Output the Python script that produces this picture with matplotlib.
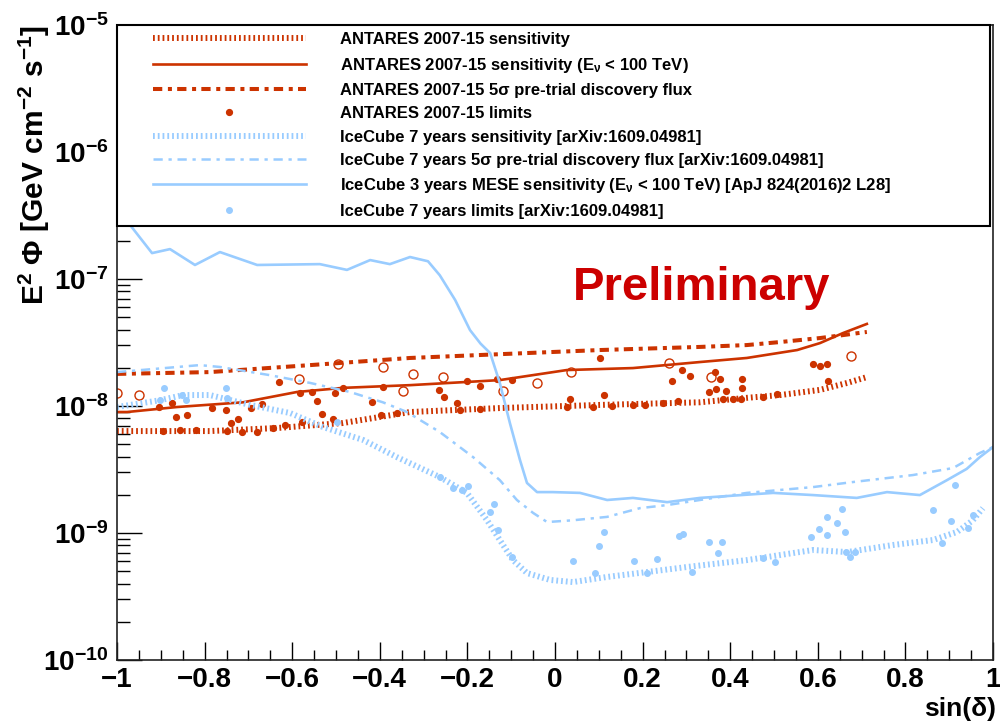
import numpy as np
import matplotlib
matplotlib.use("Agg")
import matplotlib.pyplot as plt
from matplotlib.legend_handler import HandlerLine2D
from matplotlib.ticker import FixedLocator, FixedFormatter, LogLocator, NullFormatter, FuncFormatter

plt.rcParams['font.family'] = ['Liberation Sans', 'DejaVu Sans']
plt.rcParams['mathtext.fontset'] = 'custom'
plt.rcParams['mathtext.rm'] = 'Liberation Sans:bold'
plt.rcParams['mathtext.it'] = 'Liberation Sans:bold'
plt.rcParams['mathtext.bf'] = 'Liberation Sans:bold'
plt.rcParams['mathtext.sf'] = 'Liberation Sans:bold'
plt.rcParams['mathtext.default'] = 'bf'

# ---------------- data ----------------
ant_sens_x = [-1, -0.788, -0.635, -0.484, -0.331, -0.126, 0.103, 0.331, 0.438, 0.514, 0.605, 0.667, 0.712]
ant_sens_y = [6.35e-9, 6.35e-9, 6.71e-9, 7.35e-9, 8.97e-9, 9.64e-9, 1.02e-8, 1.07e-8, 1.16e-8, 1.22e-8,
              1.34e-8, 1.52e-8, 1.69e-8]

ant_sens100_x = [-1, -0.977, -0.863, -0.712, -0.589, -0.484, -0.331, -0.126, 0.027, 0.178, 0.331, 0.438,
                 0.553, 0.605, 0.658, 0.712]
ant_sens100_y = [8.97e-9, 8.97e-9, 9.82e-9, 1.07e-8, 1.29e-8, 1.39e-8, 1.46e-8, 1.60e-8, 1.92e-8, 1.99e-8,
                 2.22e-8, 2.39e-8, 2.76e-8, 3.13e-8, 3.76e-8, 4.43e-8]

ant_disc_x = [-1, -0.788, -0.559, -0.331, -0.126, 0.103, 0.331, 0.438, 0.514, 0.605, 0.658, 0.712]
ant_disc_y = [1.79e-8, 1.85e-8, 2.10e-8, 2.39e-8, 2.56e-8, 2.76e-8, 2.92e-8, 3.02e-8, 3.19e-8, 3.43e-8,
              3.62e-8, 3.83e-8]

ant_lim_x = [-0.904, -0.874, -0.865, -0.840, -0.895, -0.856, -0.820, -0.783, -0.751, -0.740, -0.724, -0.694,
             -0.669, -0.749, -0.715, -0.680, -0.644, -0.616, -0.630, -0.582, -0.578, -0.555, -0.543, -0.532,
             -0.507, -0.502, -0.484, -0.418, -0.393, -0.397, -0.361, -0.265, -0.253, -0.224, -0.201, -0.171,
             -0.132, -0.098, -0.217, -0.171, 0.027, 0.034, 0.087, 0.103, 0.112, 0.130, 0.178, 0.205, 0.247,
             0.281, 0.267, 0.290, 0.308, 0.365, 0.377, 0.427, 0.427, 0.368, 0.352, 0.390, 0.384, 0.406, 0.425,
             0.475, 0.507, 0.589, 0.605, 0.621, 0.623]
ant_lim_y = [9.82e-9, 1.06e-8, 8.18e-9, 8.49e-9, 6.35e-9, 6.47e-9, 6.47e-9, 9.64e-9, 9.31e-9, 7.35e-9, 7.91e-9,
             9.64e-9, 1.04e-8, 6.35e-9, 6.24e-9, 6.24e-9, 6.71e-9, 7.08e-9, 1.55e-8, 1.26e-8, 7.48e-9, 1.29e-8,
             1.09e-8, 8.65e-9, 7.91e-9, 1.26e-8, 1.39e-8, 1.07e-8, 1.41e-8, 8.49e-9, 8.81e-9, 1.34e-8, 1.18e-8,
             1.06e-8, 1.57e-8, 1.44e-8, 1.63e-8, 1.60e-8, 9.31e-9, 9.46e-9, 9.82e-9, 1.14e-8, 9.82e-9, 2.39e-8,
             1.22e-8, 1.00e-8, 1.02e-8, 1.02e-8, 1.06e-8, 1.09e-8, 1.57e-8, 1.92e-8, 1.72e-8, 1.85e-8, 1.63e-8,
             1.63e-8, 1.39e-8, 1.36e-8, 1.29e-8, 1.31e-8, 1.14e-8, 1.14e-8, 1.14e-8, 1.18e-8, 1.24e-8, 2.14e-8,
             2.07e-8, 2.14e-8, 1.57e-8]

ant_open_x = [-1.000, -0.950, -0.584, -0.495, -0.393, -0.347, -0.324, -0.256, -0.119, -0.041, 0.037, 0.260,
              0.356, 0.676]
ant_open_y = [1.26e-8, 1.22e-8, 1.63e-8, 2.14e-8, 2.03e-8, 1.31e-8, 1.79e-8, 1.69e-8, 1.31e-8, 1.52e-8,
              1.85e-8, 2.18e-8, 1.69e-8, 2.48e-8]

ic_sens_x = [-1, -0.902, -0.849, -0.788, -0.696, -0.605, -0.530, -0.438, -0.361, -0.263, -0.201, -0.155,
             -0.126, -0.096, -0.064, -0.011, 0.041, 0.119, 0.210, 0.301, 0.438, 0.589, 0.667, 0.772, 0.863,
             0.918, 0.954, 0.977]
ic_sens_y = [9.82e-9, 1.11e-8, 1.22e-8, 1.22e-8, 1.02e-8, 8.81e-9, 6.84e-9, 5.40e-9, 3.96e-9, 2.76e-9,
             2.07e-9, 1.26e-9, 8.81e-10, 6.12e-10, 4.84e-10, 4.27e-10, 4.11e-10, 4.51e-10, 4.93e-10, 5.40e-10,
             6.12e-10, 7.35e-10, 7.08e-10, 8.05e-10, 8.81e-10, 1.02e-9, 1.26e-9, 1.57e-9]

ic_disc_x = [-1, -0.811, -0.765, -0.651, -0.559, -0.468, -0.393, -0.338, -0.263, -0.187, -0.126, -0.087,
             -0.050, -0.018, 0.041, 0.119, 0.194, 0.256, 0.331, 0.438, 0.589, 0.680, 0.817, 0.909, 0.970, 1.0]
ic_disc_y = [1.85e-8, 2.10e-8, 2.03e-8, 1.75e-8, 1.52e-8, 1.29e-8, 1.07e-8, 8.97e-9, 6.24e-9, 3.96e-9,
             2.61e-9, 1.82e-9, 1.44e-9, 1.22e-9, 1.26e-9, 1.34e-9, 1.57e-9, 1.66e-9, 1.82e-9, 2.07e-9,
             2.30e-9, 2.52e-9, 2.86e-9, 3.25e-9, 4.27e-9, 4.75e-9]

mese_x = [-1, -0.970, -0.920, -0.879, -0.822, -0.765, -0.680, -0.537, -0.475, -0.422, -0.377, -0.331,
          -0.290, -0.263, -0.228, -0.194, -0.170, -0.148, -0.126, -0.103, -0.080, -0.064, -0.041, -0.005,
          0.057, 0.119, 0.178, 0.256, 0.331, 0.498, 0.589, 0.689, 0.758, 0.833, 0.895, 0.940, 0.970, 1.0]
mese_y = [4.47e-7, 2.66e-7, 1.60e-7, 1.72e-7, 1.29e-7, 1.63e-7, 1.29e-7, 1.31e-7, 1.18e-7, 1.41e-7,
          1.31e-7, 1.49e-7, 1.38e-7, 1.07e-7, 6.84e-8, 3.96e-8, 3.10e-8, 2.61e-8, 1.52e-8, 7.35e-9,
          3.76e-9, 2.48e-9, 2.10e-9, 2.10e-9, 2.07e-9, 1.82e-9, 1.89e-9, 1.75e-9, 1.89e-9, 2.07e-9,
          1.99e-9, 1.89e-9, 2.10e-9, 1.99e-9, 2.61e-9, 3.20e-9, 3.96e-9, 4.75e-9]

ic_lim_x = [-0.893, -0.751, -0.902, -0.852, -0.842, -0.749, -0.498, -0.263, -0.233, -0.212, -0.199, -0.139,
            -0.148, -0.130, -0.098, 0.041, 0.091, 0.100, 0.112, 0.180, 0.210, 0.233, 0.283, 0.292, 0.313,
            0.352, 0.381, 0.372, 0.475, 0.502, 0.584, 0.603, 0.621, 0.644, 0.621, 0.655, 0.662, 0.664,
            0.674, 0.685, 0.863, 0.904, 0.913, 0.884, 0.943, 0.954]
ic_lim_y = [1.39e-8, 1.39e-8, 1.11e-8, 1.22e-8, 1.11e-8, 1.16e-8, 7.48e-9, 2.76e-9, 2.26e-9, 2.18e-9,
            2.34e-9, 1.69e-9, 1.46e-9, 1.06e-9, 6.47e-10, 6.03e-10, 4.84e-10, 7.91e-10, 1.02e-9, 6.03e-10,
            4.84e-10, 6.24e-10, 9.46e-10, 9.82e-10, 4.93e-10, 8.49e-10, 8.49e-10, 6.97e-10, 6.35e-10,
            5.92e-10, 9.31e-10, 1.07e-9, 1.34e-9, 1.20e-9, 9.64e-10, 1.55e-9, 1.02e-9, 7.08e-10, 6.47e-10,
            7.08e-10, 1.52e-9, 1.24e-9, 2.39e-9, 8.34e-10, 1.09e-9, 1.39e-9]

labels = [
    "ANTARES 2007-15 sensitivity",
    r"ANTARES 2007-15 sensitivity (E$_{\nu}$ < 100 TeV)",
    "ANTARES 2007-15 5\u03c3 pre-trial discovery flux",
    "ANTARES 2007-15 limits",
    "IceCube 7 years sensitivity [arXiv:1609.04981]",
    "IceCube 7 years 5\u03c3 pre-trial discovery flux [arXiv:1609.04981]",
    r"IceCube 3 years MESE sensitivity (E$_{\nu}$ < 100 TeV) [ApJ 824(2016)2 L28]",
    "IceCube 7 years limits [arXiv:1609.04981]",
]

x_ticks = [-1, -0.8, -0.6, -0.4, -0.2, 0, 0.2, 0.4, 0.6, 0.8, 1]
x_ticklabels = ["\u22121", "\u22120.8", "\u22120.6", "\u22120.4", "\u22120.2", "0", "0.2", "0.4", "0.6", "0.8", "1"]
y_ticks = [1e-10, 1e-9, 1e-8, 1e-7, 1e-6, 1e-5]

# ---------------- style ----------------
RED = '#cc3300'
BLUE = '#99ccff'

fig = plt.figure(figsize=(10, 7.23), dpi=100)
ax = fig.add_axes([0.117, 0.0871, 0.876, 0.8783])

h1, = ax.plot(ant_sens_x, ant_sens_y, color=RED, lw=4.3, ls=(0, (0.3, 0.5)))
h2, = ax.plot(ant_sens100_x, ant_sens100_y, color=RED, lw=1.9)
h3, = ax.plot(ant_disc_x, ant_disc_y, color=RED, lw=2.9, ls=(0, (2.3, 1.4, 1.0, 1.3)))
h4, = ax.plot(ant_lim_x, ant_lim_y, ls='none', marker='o', ms=4.2, color=RED, mec=RED)
ax.plot(ant_open_x, ant_open_y, ls='none', marker='o', ms=6.5, mfc='none', mec=RED, mew=1.0)
h5, = ax.plot(ic_sens_x, ic_sens_y, color=BLUE, lw=4.3, ls=(0, (0.3, 0.5)))
h6, = ax.plot(ic_disc_x, ic_disc_y, color=BLUE, lw=1.8, ls=(0, (3.7, 2.3, 1.3, 2.3)))
h7, = ax.plot(mese_x, mese_y, color=BLUE, lw=1.9)
h8, = ax.plot(ic_lim_x, ic_lim_y, ls='none', marker='o', ms=4.0, color=BLUE, mec=BLUE)

ax.set_yscale('log')
ax.set_xlim(-1, 1)
ax.set_ylim(1e-10, 1e-5)

ax.xaxis.set_major_locator(FixedLocator(x_ticks))
ax.xaxis.set_major_formatter(FixedFormatter(x_ticklabels))
ax.xaxis.set_minor_locator(FixedLocator(np.arange(-1, 1.0001, 0.05)))
ax.yaxis.set_major_locator(FixedLocator(y_ticks))
ax.yaxis.set_major_formatter(FuncFormatter(lambda v, p: r"$10^{%d}$" % int(round(np.log10(v)))))
ax.yaxis.set_minor_locator(LogLocator(base=10, subs=range(2, 10)))
ax.yaxis.set_minor_formatter(NullFormatter())

ax.tick_params(axis='both', which='both', direction='in', top=False, right=False, colors='black', width=1.0)
ax.tick_params(axis='x', which='major', length=13, pad=5, labelsize=20)
ax.tick_params(axis='x', which='minor', length=7)
ax.tick_params(axis='y', which='major', length=18, pad=6, labelsize=20)
ax.tick_params(axis='y', which='minor', length=9.5)
for lab in ax.get_xticklabels() + ax.get_yticklabels():
    lab.set_fontweight('bold')
for s in ax.spines.values():
    s.set_linewidth(1.2)
    s.set_color('#222222')

ax.set_ylabel(r"E$^{2}$ $\Phi$ [GeV cm$^{-2}$ s$^{-1}$]", fontsize=21.5, fontweight='bold', loc='top')
ax.yaxis.set_label_coords(-0.074, 1.0)
ax.set_xlabel("sin(\u03b4)", fontsize=19, fontweight='bold', loc='right')
ax.xaxis.set_label_coords(1.004, -0.058)

ax.text(0.667, 0.567, "Preliminary", transform=ax.transAxes, ha='center', va='baseline',
        color='#cc0000', fontsize=34, fontweight='bold')

line_handler = HandlerLine2D(marker_pad=1.71, numpoints=2)
dot_handler = HandlerLine2D(numpoints=1)
hmap = {h1: line_handler, h2: line_handler, h3: line_handler, h5: line_handler,
        h6: line_handler, h7: line_handler, h4: dot_handler, h8: dot_handler}
leg = ax.legend([h1, h2, h3, h4, h5, h6, h7, h8], labels, handler_map=hmap,
                loc='upper left', bbox_to_anchor=(0, 0, 0.997, 1), mode='expand',
                borderaxespad=0, prop={'weight': 'bold', 'size': 12},
                handlelength=12.6, handletextpad=0.32, labelspacing=0.50, borderpad=0.43,
                fancybox=False, framealpha=1, edgecolor='black')
leg.get_frame().set_linewidth(1.5)
leg.set_zorder(10)

fig.savefig("out.png", dpi=100)
